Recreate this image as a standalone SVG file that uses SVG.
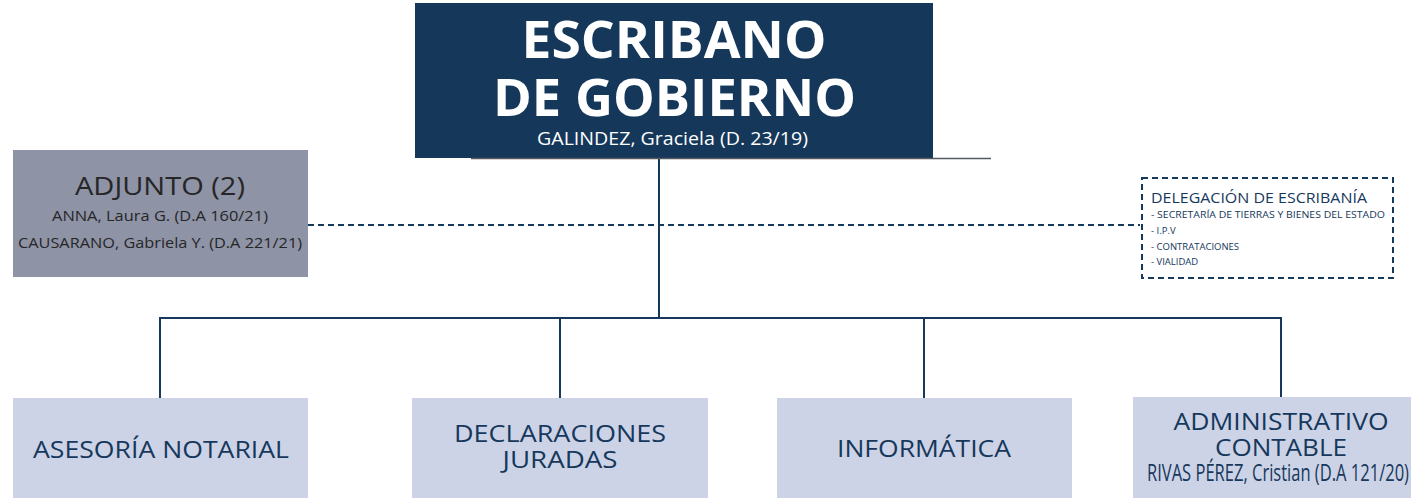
<svg xmlns="http://www.w3.org/2000/svg" width="1411" height="498" viewBox="0 0 1411 498">
<style>
text{font-family:"Open Sans","Liberation Sans",sans-serif;}
.title{fill:#ffffff;font-weight:700;font-size:52px;text-anchor:middle;}
.sub{fill:#ffffff;font-size:19px;text-anchor:middle;}
.lbl{fill:#16385c;font-size:24px;text-anchor:middle;}
.lbl2{fill:#16385c;font-size:23px;text-anchor:middle;}
.adj{fill:#262626;text-anchor:middle;}
.del{fill:#16385c;}
.conn{stroke:#16385c;stroke-width:2;fill:none;}
.dash{stroke:#16385c;stroke-width:2;fill:none;stroke-dasharray:6 4;}
.leaf{fill:#cdd3e6;}
</style>
<g id="connectors">
<line class="conn" x1="659" y1="158" x2="659" y2="318"/>
<line class="conn" x1="159" y1="318" x2="1282" y2="318"/>
<line class="conn" x1="160" y1="318" x2="160" y2="398"/>
<line class="conn" x1="560" y1="318" x2="560" y2="398"/>
<line class="conn" x1="924" y1="318" x2="924" y2="398"/>
<line class="conn" x1="1281" y1="318" x2="1281" y2="398"/>
<line class="dash" x1="308" y1="225" x2="1140" y2="225"/>
</g>
<g id="escribano">
<rect x="415" y="3" width="518" height="155" fill="#14375a"/>
<line x1="471" y1="158.5" x2="991" y2="158.5" stroke="#555a60" stroke-width="1.5"/>
<text class="title" x="674" y="58" textLength="305" lengthAdjust="spacingAndGlyphs">ESCRIBANO</text>
<text class="title" x="674.5" y="116" textLength="363" lengthAdjust="spacingAndGlyphs">DE GOBIERNO</text>
<text class="sub" x="672.5" y="145" textLength="271" lengthAdjust="spacingAndGlyphs">GALINDEZ, Graciela (D. 23/19)</text>
</g>
<g id="adjunto">
<rect x="13" y="150" width="295" height="127" fill="#8e93a6"/>
<text class="adj" x="160" y="195" font-size="26" textLength="170" lengthAdjust="spacingAndGlyphs">ADJUNTO (2)</text>
<text class="adj" x="160" y="221" font-size="15" textLength="216" lengthAdjust="spacingAndGlyphs">ANNA, Laura G. (D.A 160/21)</text>
<text class="adj" x="160" y="248" font-size="15" textLength="284" lengthAdjust="spacingAndGlyphs">CAUSARANO, Gabriela Y. (D.A 221/21)</text>
</g>
<g id="delegacion">
<rect class="dash" x="1142" y="178" width="251" height="100"/>
<text class="del" x="1151" y="203" font-size="15" textLength="216" lengthAdjust="spacingAndGlyphs">DELEGACIÓN DE ESCRIBANÍA</text>
<text class="del" x="1151" y="218" font-size="9.5" textLength="234" lengthAdjust="spacingAndGlyphs">- SECRETARÍA DE TIERRAS Y BIENES DEL ESTADO</text>
<text class="del" x="1151" y="234" font-size="9.5">- I.P.V</text>
<text class="del" x="1151" y="250" font-size="9.5">- CONTRATACIONES</text>
<text class="del" x="1151" y="265" font-size="9.5">- VIALIDAD</text>
</g>
<g id="asesoria">
<rect class="leaf" x="13" y="398" width="295" height="100"/>
<text class="lbl" x="161" y="458" textLength="256" lengthAdjust="spacingAndGlyphs">ASESORÍA NOTARIAL</text>
</g>
<g id="declaraciones">
<rect class="leaf" x="412" y="398" width="296" height="100"/>
<text class="lbl2" x="560" y="442" textLength="212" lengthAdjust="spacingAndGlyphs">DECLARACIONES</text>
<text class="lbl2" x="560" y="468" textLength="115" lengthAdjust="spacingAndGlyphs">JURADAS</text>
</g>
<g id="informatica">
<rect class="leaf" x="777" y="398" width="295" height="100"/>
<text class="lbl" x="924" y="457" textLength="174" lengthAdjust="spacingAndGlyphs">INFORMÁTICA</text>
</g>
<g id="administrativo">
<rect class="leaf" x="1133" y="397" width="278" height="101"/>
<text class="lbl2" x="1281" y="430" textLength="215" lengthAdjust="spacingAndGlyphs">ADMINISTRATIVO</text>
<text class="lbl2" x="1281" y="456" textLength="132" lengthAdjust="spacingAndGlyphs">CONTABLE</text>
<text class="lbl" x="1147" y="481" font-size="16" style="text-anchor:start" textLength="262" lengthAdjust="spacingAndGlyphs">RIVAS PÉREZ, Cristian (D.A 121/20)</text>
</g>
</svg>
